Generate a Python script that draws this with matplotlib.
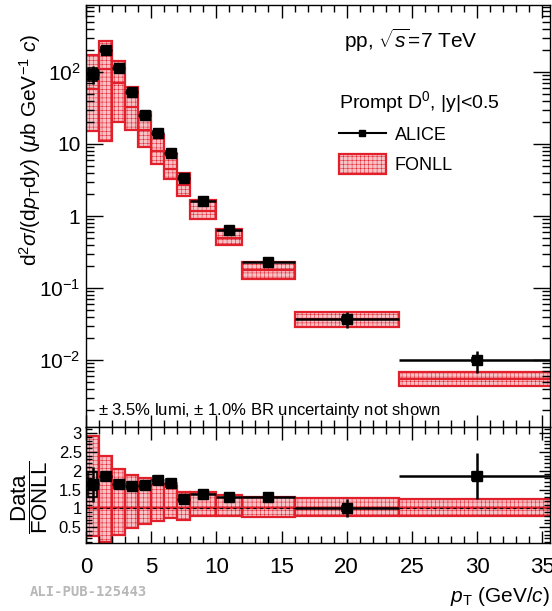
import numpy as np
import matplotlib.pyplot as plt
from matplotlib.lines import Line2D
from matplotlib.patches import Patch
from matplotlib.ticker import FixedLocator, MultipleLocator, FuncFormatter, LogLocator

plt.rcParams['font.family'] = ['Liberation Sans', 'DejaVu Sans']
plt.rcParams['mathtext.fontset'] = 'custom'
plt.rcParams['mathtext.rm'] = 'Liberation Sans'
plt.rcParams['mathtext.it'] = 'Liberation Sans:italic'
plt.rcParams['hatch.linewidth'] = 0.35

# pT bins (GeV/c)
bin_lo = np.array([0, 1, 2, 3, 4, 5, 6, 7, 8, 10, 12, 16, 24])
bin_hi = np.array([1, 2, 3, 4, 5, 6, 7, 8, 10, 12, 16, 24, 36])
pt = np.array([0.5, 1.5, 2.5, 3.5, 4.5, 5.5, 6.5, 7.5, 9, 11, 14, 20, 30])

# ALICE prompt D0 cross section (mub GeV^-1 c) and relative uncertainties
alice = np.array([95, 205, 115, 53, 25, 14.2, 7.5, 3.4, 1.6, 0.64, 0.23, 0.037, 0.010])
alice_stat = np.array([0.28, 0.07, 0.05, 0.04, 0.04, 0.04, 0.04, 0.05, 0.05, 0.06, 0.08, 0.24, 0.33])
alice_syst = np.array([0.20, 0.07, 0.06, 0.06, 0.06, 0.06, 0.06, 0.07, 0.06, 0.06, 0.06, 0.06, 0.06])

# FONLL central value and uncertainty band
fonll = np.array([58, 111, 70, 33, 15.5, 8.1, 4.5, 2.7, 1.16, 0.49, 0.177, 0.037, 0.0054])
fonll_max = np.array([170, 266, 143, 62, 28, 13.4, 7.2, 3.9, 1.65, 0.66, 0.23, 0.047, 0.0068])
fonll_min = np.array([15, 11, 20, 15.5, 9.2, 5.3, 3.3, 1.9, 0.92, 0.39, 0.135, 0.029, 0.0043])

W, H = 552, 611
fig = plt.figure(figsize=(W / 100, H / 100), dpi=100)

def box(x0, y0, x1, y1):
    return [x0 / W, 1 - y1 / H, (x1 - x0) / W, (y1 - y0) / H]

ax = fig.add_axes(box(86, 5, 550, 427))
axr = fig.add_axes(box(86, 427, 550, 543), sharex=ax)

red = '#e2202c'
pink = '#f7c2c6'
width = bin_hi - bin_lo
syst_w = 0.7


def draw_panel(a, y, ystat, ysyst, band_lo, band_hi, central):
    a.bar(bin_lo, band_hi - band_lo, bottom=band_lo, width=width, align='edge',
          facecolor=pink, edgecolor=red, hatch='++++', linewidth=1.6, zorder=1)
    a.hlines(central, bin_lo, bin_hi, color=red, lw=1.6, zorder=2)
    a.bar(pt, 2 * ysyst, bottom=y - ysyst, width=syst_w, facecolor='none',
          edgecolor='k', linewidth=1.2, zorder=3)
    a.errorbar(pt, y, xerr=width / 2, yerr=ystat, fmt='s', color='k', ms=7,
               elinewidth=1.8, capsize=0, zorder=4)


draw_panel(ax, alice, alice * alice_stat, alice * alice_syst,
           fonll_min, fonll_max, fonll)

ratio = alice / fonll
draw_panel(axr, ratio, ratio * alice_stat, ratio * alice_syst,
           fonll_min / fonll, fonll_max / fonll, np.ones_like(fonll))
axr.axhline(1, color='k', ls=(0, (3, 3)), lw=0.8, zorder=5)

# axes ranges and ROOT-like ticks
ax.set_yscale('log')
ax.set_ylim(10 ** -2.93, 10 ** 2.93)
ax.set_xlim(0, 35.6)
axr.set_ylim(0.08, 3.16)

def log_label(v, pos):
    e = int(round(np.log10(v)))
    if e == 0:
        return '1'
    if e == 1:
        return '10'
    return r'$10^{%d}$' % e

ax.yaxis.set_major_locator(LogLocator(base=10, numticks=20))
ax.yaxis.set_major_formatter(FuncFormatter(log_label))
ax.yaxis.set_minor_locator(LogLocator(base=10, subs=np.arange(2, 10), numticks=20))
ax.yaxis.set_minor_formatter(plt.NullFormatter())

for a in (ax, axr):
    a.xaxis.set_major_locator(MultipleLocator(5))
    a.xaxis.set_minor_locator(MultipleLocator(1))
    a.tick_params(which='both', direction='in', top=True, right=True, width=1.0)
    a.tick_params(which='major', length=9)
    a.tick_params(which='minor', length=5)
    for s in a.spines.values():
        s.set_linewidth(1.0)

ax.tick_params(axis='y', which='major', length=12, labelsize=15, pad=4)
ax.tick_params(axis='y', which='minor', length=6)
ax.tick_params(axis='x', labelbottom=False)

axr.yaxis.set_major_locator(FixedLocator([0.5, 1, 1.5, 2, 2.5, 3]))
axr.yaxis.set_minor_locator(MultipleLocator(0.1))
axr.yaxis.set_major_formatter(FuncFormatter(lambda v, p: '%g' % v))
axr.tick_params(axis='y', which='major', length=8, labelsize=12, pad=3)
axr.tick_params(axis='y', which='minor', length=4)
axr.tick_params(axis='x', which='major', labelsize=16, pad=10)

# titles and annotations
fig.text(30 / W, 1 - 150 / H,
         r'd$^{2}\sigma$/(d$p_{\rm T}$d$y$) ($\mu$b GeV$^{-1}$ $c$)',
         rotation=90, ha='center', va='center', fontsize=15)
fig.text(30 / W, 1 - 497 / H, r'$\dfrac{\rm Data}{\rm FONLL}$',
         rotation=90, ha='center', va='center', fontsize=16)
fig.text(550 / W, 1 - 597 / H, r'$p_{\rm T}$ (GeV/$c$)',
         ha='right', va='center', fontsize=15)
fig.text(30 / W, 1 - 592 / H, 'ALI-PUB-125443', color='#b8b8b8',
         family='DejaVu Sans Mono', fontweight='bold', fontsize=10,
         ha='left', va='center')

ax.text(0.556, 0.915, r'pp, $\sqrt{s}$=7 TeV', transform=ax.transAxes,
        fontsize=15, ha='left', va='center')
ax.text(0.025, 0.04, r'$\pm$ 3.5% lumi, $\pm$ 1.0% BR uncertainty not shown',
        transform=ax.transAxes, fontsize=12, ha='left', va='center')

handles = [Line2D([], [], color='k', marker='s', ms=4, lw=1.5),
           Patch(facecolor=pink, edgecolor=red, hatch='++++', linewidth=1.6)]
leg = ax.legend(handles, ['ALICE', 'FONLL'], title=r'Prompt D$^{0}$, |y|<0.5',
                loc='upper left', bbox_to_anchor=(0.51, 0.84), frameon=False,
                fontsize=13, title_fontsize=14, alignment='left',
                handlelength=2.6, handleheight=1.3, handletextpad=0.5,
                labelspacing=0.55)

fig.savefig('out.png', dpi=100)
